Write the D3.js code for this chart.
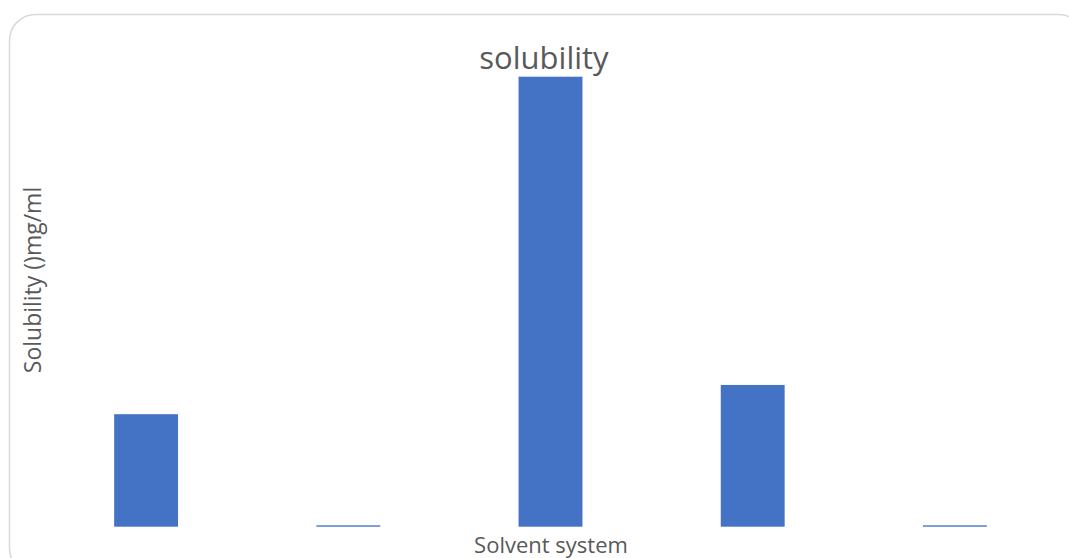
<!DOCTYPE html>
<html>
<head>
<meta charset="utf-8">
<script src="https://cdn.jsdelivr.net/npm/d3@7"></script>
<style>
  html, body { margin: 0; padding: 0; background: #fff; }
  svg { display: block; }
  text { font-family: "Open Sans", "Noto Sans", sans-serif; fill: #595959; }
</style>
</head>
<body>
<svg id="chart" width="1069" height="558"></svg>
<script>
// Solvent systems (category axis is not labelled on the chart)
const categories = ["1", "2", "3", "4", "5"];
// Solubility values, mg/ml
const solubility = [2.50, 0.03, 10.0, 3.15, 0.03];
const yDomain = [0, 10];

const chartTitle = "solubility";
const xTitle = "Solvent system";
const yTitle = "Solubility ()mg/ml";

const svg = d3.select("#chart");

// Chart area frame with rounded corners
svg.append("rect")
  .attr("x", 9.5).attr("y", 14.5)
  .attr("width", 1075).attr("height", 560)
  .attr("rx", 26).attr("ry", 26)
  .attr("fill", "#fff")
  .attr("stroke", "#d9d9d9")
  .attr("stroke-width", 1.5);

const plot = { left: 45, right: 1056, top: 76.7, bottom: 526.7 };

const x = d3.scaleBand()
  .domain(categories)
  .range([plot.left, plot.right])
  .paddingInner(0.684)
  .paddingOuter(0.342);

const y = d3.scaleLinear()
  .domain(yDomain)
  .range([plot.bottom, plot.top]);

svg.append("g")
  .selectAll("rect")
  .data(solubility)
  .join("rect")
  .attr("x", (d, i) => x(categories[i]))
  .attr("y", d => y(d))
  .attr("width", x.bandwidth())
  .attr("height", d => y(0) - y(d))
  .attr("fill", "#4472c4");

// Titles
svg.append("text")
  .attr("x", 544).attr("y", 69)
  .attr("text-anchor", "middle")
  .style("font-size", "31px")
  .text(chartTitle);

svg.append("text")
  .attr("x", 551).attr("y", 553)
  .attr("text-anchor", "middle")
  .style("font-size", "22px")
  .text(xTitle);

svg.append("text")
  .attr("transform", "translate(41,280) rotate(-90)")
  .attr("text-anchor", "middle")
  .style("font-size", "23px")
  .text(yTitle);
</script>
</body>
</html>
